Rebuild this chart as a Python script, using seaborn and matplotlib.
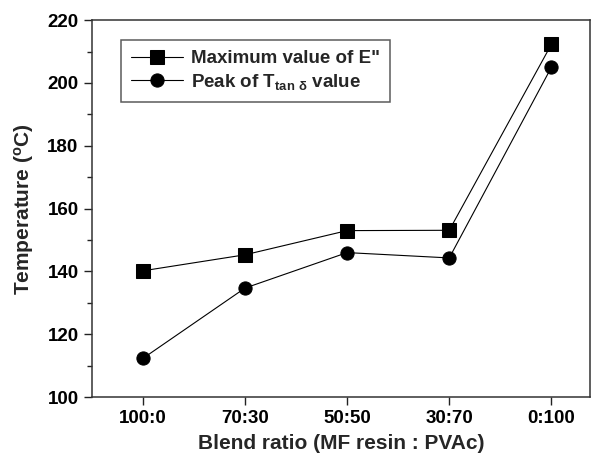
import matplotlib
matplotlib.use("Agg")
import matplotlib.pyplot as plt
import seaborn as sns
import pandas as pd
from matplotlib.ticker import MultipleLocator

categories = ["100:0", "70:30", "50:50", "30:70", "0:100"]
max_E2 = [140.2, 145.3, 153.0, 153.1, 212.3]
peak_tan = [112.3, 134.7, 146.0, 144.3, 205.0]
series_names = ['Maximum value of E"', r'Peak of T$_{\mathrm{tan}\ \delta}$ value']

sns.set_theme(style="ticks")
plt.rcParams['font.family'] = ['Liberation Sans', 'DejaVu Sans']
plt.rcParams['font.weight'] = 'bold'
plt.rcParams['mathtext.fontset'] = 'custom'
plt.rcParams['mathtext.rm'] = 'Liberation Sans:bold'
plt.rcParams['mathtext.it'] = 'Liberation Sans:bold'
plt.rcParams['mathtext.bf'] = 'Liberation Sans:bold'

df = pd.DataFrame({
    "x": list(range(len(categories))) * 2,
    "y": max_E2 + peak_tan,
    "series": [series_names[0]] * len(categories) + [series_names[1]] * len(categories),
})

fig = plt.figure(figsize=(5.92, 4.58), dpi=100)
ax = fig.add_axes([0.155, 0.133, 0.842, 0.823])
sns.lineplot(data=df, x="x", y="y", hue="series", style="series",
             markers={series_names[0]: "s", series_names[1]: "o"}, dashes=False,
             palette={series_names[0]: "black", series_names[1]: "black"},
             markersize=9.5, linewidth=0.8, markeredgecolor="black", ax=ax)

ax.set_xlim(-0.5, 4.38)
ax.set_ylim(100, 220)
ax.set_xticks(range(len(categories)))
ax.set_xticklabels(categories)
ax.yaxis.set_major_locator(MultipleLocator(20))
ax.yaxis.set_minor_locator(MultipleLocator(10))
ax.tick_params(axis='both', which='major', labelsize=13.5, length=6, width=1, direction='out', colors='#222222', labelcolor='black')
ax.tick_params(axis='y', which='minor', length=3.5, width=1, direction='out', colors='#222222')
for s in ax.spines.values():
    s.set_linewidth(1.1)
    s.set_color('#333333')
for lab in ax.get_xticklabels() + ax.get_yticklabels():
    lab.set_fontweight('bold')

ax.set_xlabel("Blend ratio (MF resin : PVAc)", fontsize=15, fontweight='bold', labelpad=5)
ax.set_ylabel(r"Temperature ($^{\mathrm{o}}$C)", fontsize=15, fontweight='bold', labelpad=8)

leg = ax.legend(loc='upper left', bbox_to_anchor=(0.058, 0.948), frameon=True, fancybox=False,
                edgecolor='#333333', fontsize=13.5, handlelength=2.8, borderpad=0.55,
                labelspacing=0.25, handletextpad=0.4, borderaxespad=0, title=None)
leg.get_frame().set_linewidth(1.1)
for t in leg.get_texts():
    t.set_fontweight('bold')

fig.savefig("out.png", dpi=100)
